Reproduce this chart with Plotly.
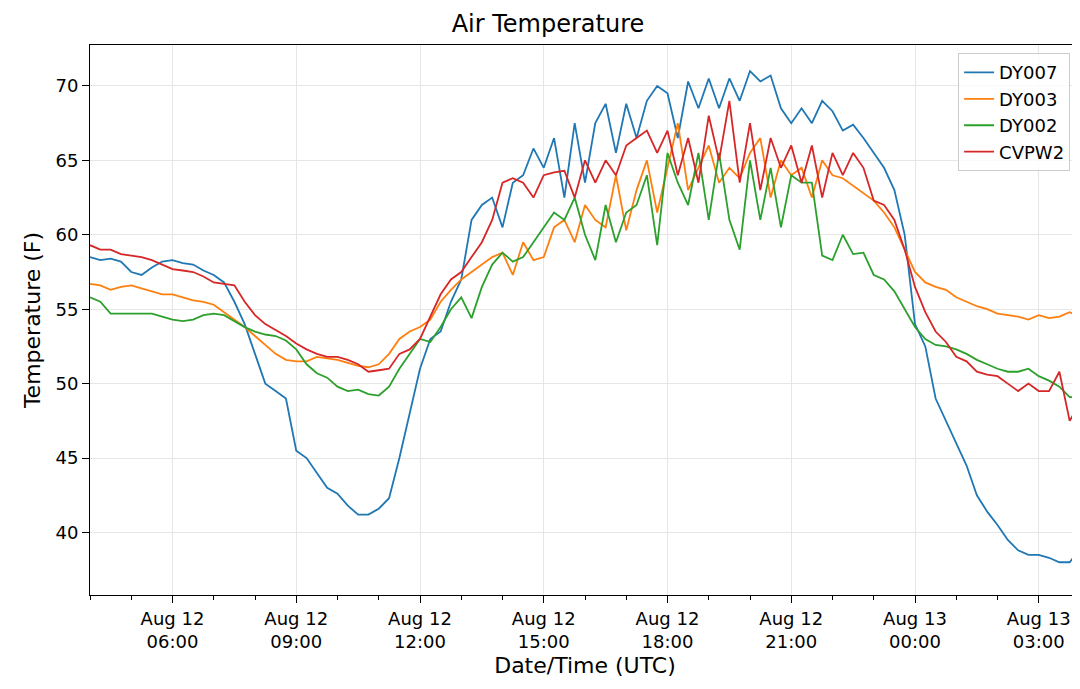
import plotly.graph_objects as go
import pandas as pd

# 15-minute samples, Aug 12 04:00 -> Aug 13 04:00 (UTC)
times = pd.date_range("2023-08-12 04:00", "2023-08-13 04:00", freq="15min")

dy007 = [58.5, 58.3, 58.4, 58.2, 57.5, 57.3, 57.8, 58.2, 58.3, 58.1,
         58.0, 57.6, 57.3, 56.8, 55.5, 54.0, 52.0, 50.0, 49.5, 49.0,
         45.5, 45.0, 44.0, 43.0, 42.6, 41.8, 41.2, 41.2, 41.6, 42.3,
         45.0, 48.0, 51.0, 53.0, 53.5, 55.5, 57.0, 61.0, 62.0, 62.5,
         60.5, 63.5, 64.0, 65.8, 64.5, 66.5, 62.5, 67.5, 63.5, 67.5,
         68.8, 65.5, 68.8, 66.5, 69.0, 70.0, 69.5, 66.5, 70.3, 68.5,
         70.5, 68.5, 70.5, 69.0, 71.0, 70.3, 70.7, 68.5, 67.5, 68.5,
         67.5, 69.0, 68.3, 67.0, 67.4, 66.5, 65.5, 64.5, 63.0, 60.0,
         54.0, 52.5, 49.0, 47.5, 46.0, 44.5, 42.5, 41.4, 40.5, 39.5,
         38.8, 38.5, 38.5, 38.3, 38.0, 38.0, 38.9]

dy003 = [56.7, 56.6, 56.3, 56.5, 56.6, 56.4, 56.2, 56.0, 56.0, 55.8,
         55.6, 55.5, 55.3, 54.8, 54.3, 53.8, 53.2, 52.6, 52.0, 51.6,
         51.5, 51.5, 51.8, 51.7, 51.6, 51.4, 51.2, 51.1, 51.3, 52.0,
         53.0, 53.5, 53.8, 54.3, 55.5, 56.3, 57.0, 57.5, 58.0, 58.5,
         58.8, 57.3, 59.5, 58.3, 58.5, 60.5, 61.0, 59.5, 62.0, 61.0,
         60.5, 64.0, 60.3, 63.0, 65.0, 61.5, 64.5, 67.5, 63.0, 64.5,
         66.0, 63.5, 64.5, 63.8, 65.5, 66.5, 62.5, 65.0, 64.0, 64.5,
         62.5, 65.0, 64.0, 63.8, 63.3, 62.8, 62.3, 61.5, 60.5, 59.0,
         57.5, 56.8, 56.5, 56.3, 55.8, 55.5, 55.2, 55.0, 54.7, 54.6,
         54.5, 54.3, 54.6, 54.4, 54.5, 54.8, 54.5]

dy002 = [55.8, 55.5, 54.7, 54.7, 54.7, 54.7, 54.7, 54.5, 54.3, 54.2,
         54.3, 54.6, 54.7, 54.6, 54.2, 53.8, 53.5, 53.3, 53.2, 52.9,
         52.3, 51.3, 50.7, 50.4, 49.8, 49.5, 49.6, 49.3, 49.2, 49.8,
         51.0, 52.0, 53.0, 52.8, 53.8, 55.0, 55.8, 54.4, 56.5, 58.0,
         58.8, 58.2, 58.5, 59.5, 60.5, 61.5, 61.0, 62.5, 60.0, 58.3,
         62.0, 59.5, 61.5, 62.0, 64.0, 59.3, 65.5, 63.5, 62.0, 65.5,
         61.0, 65.5, 61.0, 59.0, 65.0, 61.0, 64.5, 60.5, 64.0, 63.5,
         63.5, 58.6, 58.3, 60.0, 58.7, 58.8, 57.3, 57.0, 56.2, 55.0,
         53.8, 53.0, 52.6, 52.5, 52.3, 52.0, 51.6, 51.3, 51.0, 50.8,
         50.8, 51.0, 50.5, 50.2, 49.8, 49.1, 49.1]

cvpw2 = [59.3, 59.0, 59.0, 58.7, 58.6, 58.5, 58.3, 58.0, 57.7, 57.6,
         57.5, 57.2, 56.8, 56.7, 56.6, 55.5, 54.6, 54.0, 53.6, 53.2,
         52.7, 52.3, 52.0, 51.8, 51.8, 51.6, 51.3, 50.8, 50.9, 51.0,
         52.0, 52.3, 53.0, 54.5, 56.0, 57.0, 57.5, 58.5, 59.5, 61.0,
         63.5, 63.8, 63.5, 62.5, 64.0, 64.2, 64.3, 62.5, 65.0, 63.5,
         65.0, 64.0, 66.0, 66.5, 67.0, 65.5, 67.0, 64.0, 66.5, 63.5,
         68.0, 65.0, 69.0, 63.5, 67.5, 63.0, 66.5, 64.5, 66.0, 63.5,
         66.0, 62.5, 65.5, 64.0, 65.5, 64.5, 62.3, 62.0, 61.0, 59.0,
         56.5, 54.8, 53.5, 52.8, 51.8, 51.5, 50.8, 50.6, 50.5, 50.0,
         49.5, 50.0, 49.5, 49.5, 50.8, 47.5, 48.7]

tick_vals = pd.date_range("2023-08-12 06:00", "2023-08-13 03:00", freq="3h")
tick_text = [t.strftime("%b %d<br>%H:%M") for t in tick_vals]

fig = go.Figure()
for name, vals, col in [("DY007", dy007, "#1f77b4"), ("DY003", dy003, "#ff7f0e"),
                        ("DY002", dy002, "#2ca02c"), ("CVPW2", cvpw2, "#d62728")]:
    fig.add_trace(go.Scatter(x=times, y=vals, mode="lines", name=name,
                             line=dict(color=col, width=1.8)))

fig.update_layout(
    width=1080, height=689,
    margin=dict(l=82, r=8, t=37, b=102, pad=0),
    paper_bgcolor="white", plot_bgcolor="white",
    font=dict(family="DejaVu Sans", size=18, color="black"),
    title=dict(text="Air Temperature", x=0.5, xanchor="center", y=0.99, yanchor="top",
               font=dict(size=24)),
    legend=dict(x=0.99, y=0.985, xanchor="right", yanchor="top",
                bordercolor="#cccccc", borderwidth=1, bgcolor="rgba(255,255,255,0.8)",
                font=dict(size=18)),
)
fig.update_xaxes(
    automargin=False,
    range=[times[0], times[-1]], tickvals=tick_vals, ticktext=tick_text,
    ticks="outside", ticklen=7, tickcolor="black",
    minor=dict(dtick=3600000, ticks="outside", ticklen=4, tickcolor="black", showgrid=False),
    showgrid=True, gridcolor="#e6e6e6", showline=True, linecolor="black", mirror=True,
    title=dict(text="Date/Time (UTC)", standoff=6),
)
fig.update_yaxes(
    automargin=False,
    range=[35.8, 72.75], tickvals=[40, 45, 50, 55, 60, 65, 70],
    ticks="outside", ticklen=7, tickcolor="black",
    showgrid=True, gridcolor="#e6e6e6", showline=True, linecolor="black", mirror=True,
    zeroline=False, title=dict(text="Temperature (F)", standoff=8),
)

fig.write_html("out.html")
